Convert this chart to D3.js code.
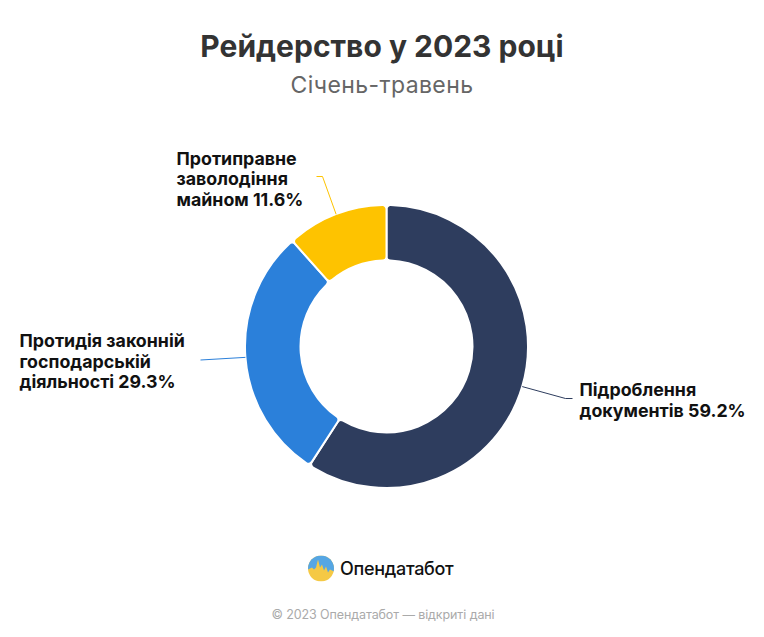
<!DOCTYPE html>
<html>
<head>
<meta charset="utf-8">
<script src="https://cdn.jsdelivr.net/npm/d3@7"></script>
<style>
  body { margin: 0; background: #fff; }
  svg text { font-family: Inter, "Noto Sans", sans-serif; }
</style>
</head>
<body>
<div id="chart"></div>
<script>
// data
var categories = ["Підроблення документів", "Протидія законній господарській діяльності", "Протиправне заволодіння майном"];
var values = [59.2, 29.3, 11.6];
var labelLines = [
  ["Підроблення", "документів 59.2%"],
  ["Протидія законній", "господарській", "діяльності 29.3%"],
  ["Протиправне", "заволодіння", "майном 11.6%"]
];
var colors = ["#2e3d5e", "#2b80da", "#fec300"];

var width = 764, height = 637;
var cx = 386.5, cy = 346.5, outerR = 141.5, innerR = 86;

var svg = d3.select("#chart").append("svg")
    .attr("width", width)
    .attr("height", height);

svg.append("text")
    .attr("x", 382).attr("y", 57)
    .attr("text-anchor", "middle")
    .attr("font-size", 30).attr("font-weight", 700)
    .attr("fill", "#333")
    .text("Рейдерство у 2023 році");

svg.append("text")
    .attr("x", 382).attr("y", 93)
    .attr("text-anchor", "middle")
    .attr("font-size", 23).attr("letter-spacing", 0.4)
    .attr("fill", "#666")
    .text("Січень-травень");

var pie = d3.pie().sort(null).value(function(d) { return d; });
var arcs = pie(values);

var arc = d3.arc()
    .innerRadius(innerR)
    .outerRadius(outerR)
    .cornerRadius(4);

var g = svg.append("g").attr("transform", "translate(" + cx + "," + cy + ")");

g.selectAll("path.slice").data(arcs).enter().append("path")
    .attr("class", "slice")
    .attr("d", arc)
    .attr("fill", function(d, i) { return colors[i]; })
    .attr("stroke", "#fff")
    .attr("stroke-width", 2);

// label layout (connector bend and text position, relative to the centre)
var labelLayout = [
  { elbow: [179, 52], end: [186, 52], tx: 193, ty: 49.5 },
  { elbow: [-186, 13.5], end: [-186, 13.5], tx: -367, ty: 0.5 },
  { elbow: [-64, -170], end: [-70, -170], tx: -210, ty: -182 }
];

arcs.forEach(function(d, i) {
  var L = labelLayout[i];
  var a = (d.startAngle + d.endAngle) / 2;
  var p0 = [outerR * Math.sin(a), -outerR * Math.cos(a)];
  g.append("polyline")
    .attr("points", [p0, L.elbow, L.end].map(function(p) { return p.join(","); }).join(" "))
    .attr("fill", "none")
    .attr("stroke", colors[i])
    .attr("stroke-width", 1);

  var t = g.append("text")
    .attr("x", L.tx).attr("y", L.ty)
    .attr("font-size", 17.8).attr("font-weight", 700)
    .attr("fill", "#111");
  labelLines[i].forEach(function(line, j) {
    t.append("tspan").attr("x", L.tx).attr("dy", j === 0 ? 0 : 20.5).text(line);
  });
});

// logo
var logo = svg.append("g").attr("transform", "translate(321,568.5)");
var clip = logo.append("clipPath").attr("id", "logoClip");
clip.append("circle").attr("r", 13);
var lg = logo.append("g").attr("clip-path", "url(#logoClip)");
lg.append("rect").attr("x", -13).attr("y", -13).attr("width", 26).attr("height", 26).attr("fill", "#f5c945");
lg.append("path")
    .attr("d", "M-13,-13 H13 V3 L9,1 L7,4 L5,-2 L3,2 L1,-4 L-1,-1 L-3,-9 L-5,-1 L-7,1 L-9,-1 L-13,1 Z")
    .attr("fill", "#55a6e4");

svg.append("text")
    .attr("x", 340).attr("y", 575)
    .attr("font-size", 18).attr("font-weight", 500)
    .attr("fill", "#111")
    .attr("letter-spacing", -0.3)
    .text("Опендатабот");

svg.append("text")
    .attr("x", 383).attr("y", 619)
    .attr("text-anchor", "middle")
    .attr("font-size", 12.5).attr("letter-spacing", -0.1)
    .attr("fill", "#aaa")
    .text("© 2023 Опендатабот — відкриті дані");
</script>
</body>
</html>
